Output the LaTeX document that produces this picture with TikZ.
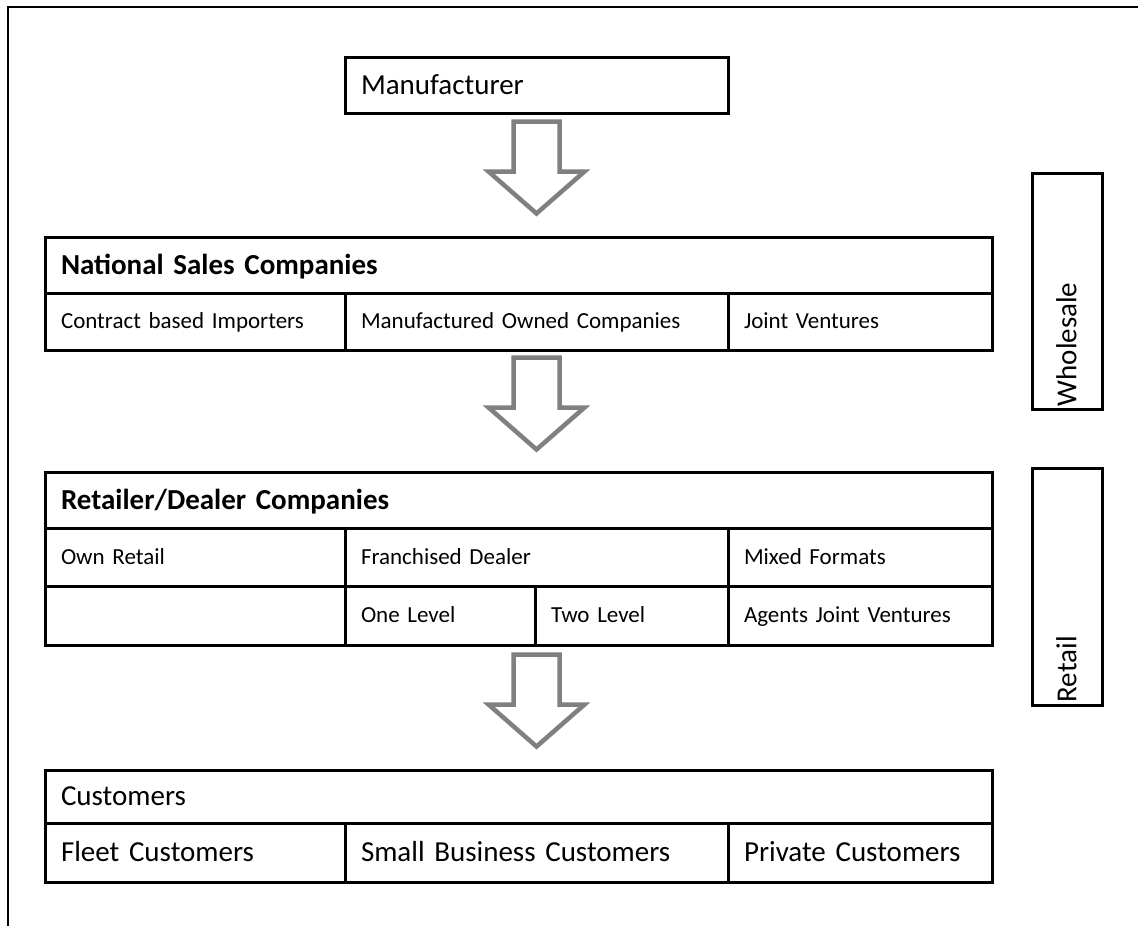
\documentclass[tikz,border=0pt]{standalone}
\usepackage{fontspec}
\setmainfont{Carlito}
\usetikzlibrary{calc}
\newcommand{\bigtext}{\fontsize{29}{34}\selectfont}
\newcommand{\smalltext}{\fontsize{23}{27}\selectfont}
\tikzset{
  pics/downarrow/.style={code={
    \draw[arrowline] (-23,0) -- (-23,50) -- (-48,50) -- (0,92) -- (48,50) -- (23,50) -- (23,0) -- cycle;
  }}
}

\begin{document}
\begin{tikzpicture}[x=1pt,y=-1pt,
        cell/.style={draw, line width=3pt, anchor=north west, inner xsep=16pt, inner ysep=0pt, outer sep=0pt, align=left},
        cw/.style 2 args={minimum width=#1pt, text width=#1pt-32pt, minimum height=#2pt},
        small/.style={font=\smalltext, text height=14.8pt, text depth=0pt},
        head/.style={font=\bigtext\bfseries, text height=18.7pt, text depth=0pt},
        big/.style={font=\bigtext, text height=18.7pt, text depth=0pt},
        sidebox/.style={draw, line width=3pt, anchor=north west, minimum width=70pt, inner sep=0pt, outer sep=0pt},
        arrowline/.style={draw=gray, fill=white, line width=4.5pt}]
        \useasboundingbox (0,0) rectangle (1138,926);
        \draw[line width=2.5pt] (8,926) -- (8,6.8) -- (1138,6.8);

        \node[cell,big,cw={383}{56}] (manu) at (345,57) {Manufacturer};

        \node[cell,head,cw={947}{56}] (nsc) at (45,237) {National Sales Companies};
        \node[cell,small,cw={300}{57}] (importers) at (nsc.south west) {Contract based Importers};
        \node[cell,small,cw={383}{57}] (owned) at (importers.north east) {Manufactured Owned Companies};
        \node[cell,small,cw={264}{57}] (joint) at (owned.north east) {Joint Ventures};

        \node[cell,head,cw={947}{56}] (rdc) at (45,472) {Retailer/Dealer Companies};
        \node[cell,small,cw={300}{58}] (own) at (rdc.south west) {Own Retail};
        \node[cell,small,cw={383}{58}] (franch) at (own.north east) {Franchised Dealer};
        \node[cell,small,cw={264}{58}] (mixed) at (franch.north east) {Mixed Formats};
        \node[cell,small,cw={300}{59}] (blank) at (own.south west) {};
        \node[cell,small,cw={190}{59}] (one) at (blank.north east) {One Level};
        \node[cell,small,cw={193}{59}] (two) at (one.north east) {Two Level};
        \node[cell,small,cw={264}{59}] (agents) at (two.north east) {Agents Joint Ventures};

        \node[cell,big,cw={947}{53}] (cust) at (45,770) {Customers};
        \node[cell,big,cw={300}{59}] (fleet) at (cust.south west) {Fleet Customers};
        \node[cell,big,cw={383}{59}] (smallbiz) at (fleet.north east) {Small Business Customers};
        \node[cell,big,cw={264}{59}] (private) at (smallbiz.north east) {Private Customers};

        \pic at ($(manu.south)+(0,8.5)$) {downarrow};
        \pic at ($(owned.south)+(0,7.5)$) {downarrow};
        \pic at ($(franch |- one.south)+(0,9.5)$) {downarrow};

        \node[sidebox, minimum height=236pt] (wholesale) at (1032,173) {};
        \node[big, rotate=90, anchor=west, inner sep=0pt] (wholesalelabel) at ($(wholesale.south)+(0,-2.5)$) {Wholesale};
        \node[sidebox, minimum height=237pt] (retail) at (1032,468) {};
        \node[big, rotate=90, anchor=west, inner sep=0pt] (retaillabel) at ($(retail.south)+(0,-2.5)$) {Retail};
\end{tikzpicture}
\end{document}
